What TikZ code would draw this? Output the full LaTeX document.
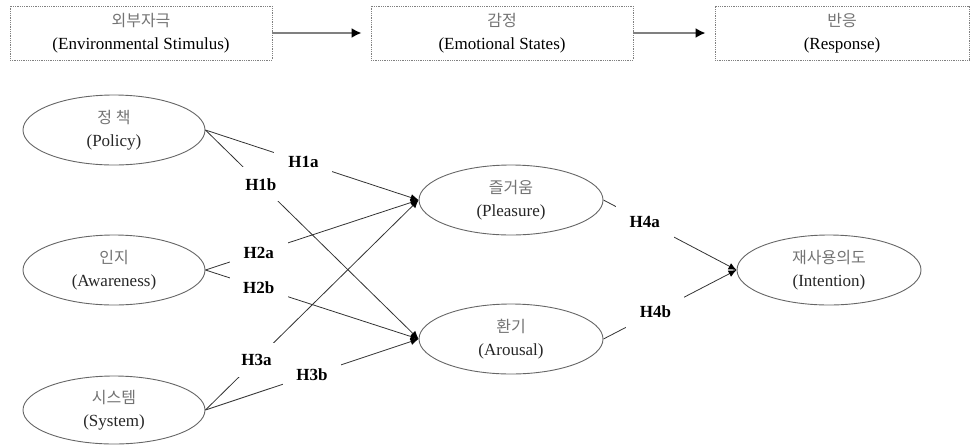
\documentclass[tikz,border=0pt]{standalone}
\usepackage{fontspec}
\setmainfont{Liberation Serif}
\newfontfamily\korfont{Noto Sans CJK KR}
\usetikzlibrary{shapes.geometric, arrows.meta, positioning}
\newcommand{\hangul}[1]{{\korfont\fontsize{16}{21}\selectfont\color{black!55}#1}}
\tikzset{
	x=1pt, y=-1pt, % one unit is one pixel of the reference, y runs down
	>={Latex[length=8pt, width=7pt, color=black]}, % small filled arrow heads
	stage/.style={draw=gray, densely dotted, line width=0.8pt, minimum width=262pt, minimum height=54pt, align=center, font=\fontsize{17}{23}\selectfont}, % dotted boxes in the top row
	flow/.style={draw=gray, line width=2.5pt, -{Latex[length=10pt, width=10pt, color=black]}, shorten >=9pt}, % thick arrows between the boxes
	construct/.style={ellipse, draw=gray!80!black, line width=0.9pt, minimum width=182pt, minimum height=70pt, inner sep=0pt, align=center, font=\fontsize{17}{23}\selectfont, text=black!85}, % the ellipses
	link/.style={->, draw=black!80, line width=0.8pt}, % paths between constructs
	hyp/.style={fill=white, font=\bfseries\fontsize{17}{20}\selectfont, minimum width=58pt, minimum height=34pt, inner sep=0pt}, % H-labels that cut the paths
}

\begin{document}
\begin{tikzpicture}
	\useasboundingbox (0,0) rectangle (973,445);
	% top row
	\node[stage] (stim) at (141,33) {\hangul{외부자극}\\(Environmental Stimulus)};
	\node[stage] (emo) at (502,33) {\hangul{감정}\\(Emotional States)};
	\node[stage, minimum width=254pt] (resp) at (842,33) {\hangul{반응}\\(Response)};
	\draw[flow] (stim) -- (emo);
	\draw[flow] (emo) -- (resp);

	% model
	\node[construct] (policy) at (114,130) {\hangul{정 책}\\(Policy)};
	\node[construct] (aware) at (114,270) {\hangul{인지}\\(Awareness)};
	\node[construct, minimum height=68pt] (system) at (114,410) {\hangul{시스템}\\(System)};
	\node[construct, minimum width=184pt] (pleasure) at (511,200) {\hangul{즐거움}\\(Pleasure)};
	\node[construct, minimum width=184pt] (arousal) at (511,339) {\hangul{환기}\\(Arousal)};
	\node[construct, minimum width=184pt] (intent) at (829,270) {\hangul{재사용의도}\\(Intention)};

	\draw[link] (policy.east) -- node[hyp, pos=0.46] {H1a} (pleasure.west);
	\draw[link] (policy.east) -- node[hyp, pos=0.26] {H1b} (arousal.west);
	\draw[link] (aware.east) -- node[hyp, pos=0.25] {H2a} (pleasure.west);
	\draw[link] (aware.east) -- node[hyp, pos=0.25] {H2b} (arousal.west);
	\draw[link] (system.east) -- node[hyp, pos=0.24] {H3a} (pleasure.west);
	\draw[link] (system.east) -- node[hyp, pos=0.5] {H3b} (arousal.west);
	\draw[link] (pleasure.east) -- node[hyp, pos=0.31] {H4a} (intent.west);
	\draw[link] (arousal.east) -- node[hyp, pos=0.39] {H4b} (intent.west);
\end{tikzpicture}
\end{document}
